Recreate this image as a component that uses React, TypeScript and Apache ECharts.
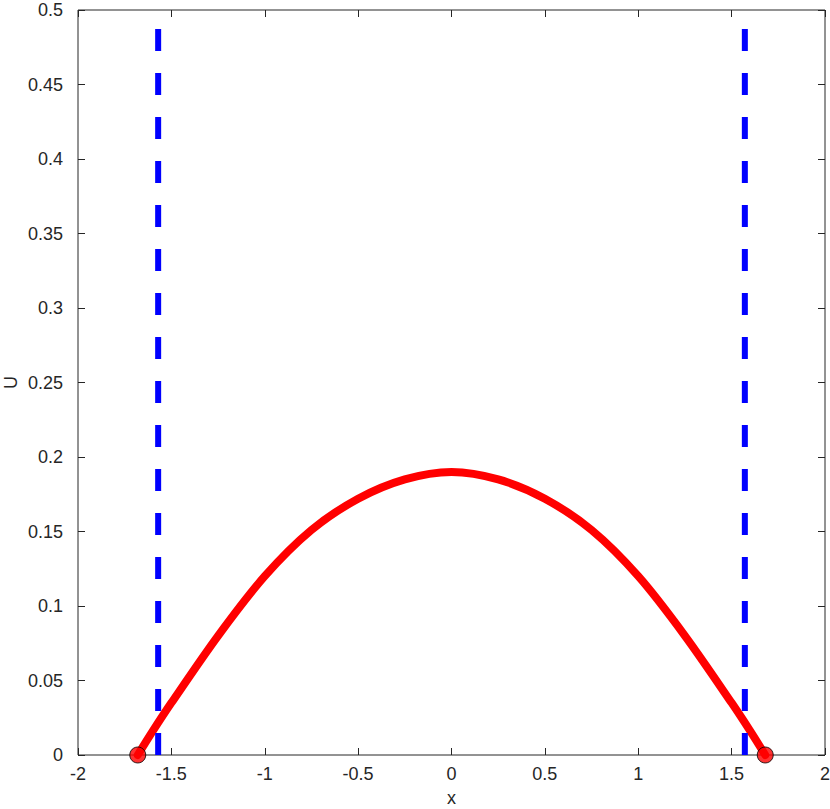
import React, { useEffect, useRef } from "react";
import * as echarts from "echarts";

const curveX = [-1.68, -1.6, -1.5, -1.25, -1.0, -0.75, -0.5, -0.25, 0, 0.25, 0.5, 0.75, 1.0, 1.25, 1.5, 1.6, 1.68];
const curveU = [0, 0.016, 0.035, 0.08, 0.12, 0.151, 0.172, 0.185, 0.19, 0.185, 0.172, 0.151, 0.12, 0.08, 0.035, 0.016, 0];
const wallX = [-1.5708, 1.5708];
const wallU = [0, 0.5];
const endX = [-1.68, 1.68];
const endU = [0, 0];
const xTicks = { min: -2, max: 2, interval: 0.5 };
const yTicks = { min: 0, max: 0.5, interval: 0.05 };

const FONT = "Liberation Sans";
const TXT = "#262626";

export default function App() {
  const ref = useRef<HTMLDivElement>(null);
  useEffect(() => {
    document.body.style.margin = "0";
    const chart = echarts.init(ref.current!, null, { renderer: "svg" });
    const tickStyle = { show: true, inside: true, length: 7, lineStyle: { color: TXT, width: 1 } };
    const labelStyle = { color: TXT, fontFamily: FONT, fontSize: 18 };
    const xBase = { type: "value" as const, ...xTicks, splitLine: { show: false }, axisLine: { show: false, onZero: false } };
    const yBase = { type: "value" as const, ...yTicks, splitLine: { show: false }, axisLine: { show: false, onZero: false } };
    const wallSeries = wallX.map((wx) => ({
      type: "line",
      data: wallU.map((u) => [wx, u]),
      symbol: "none",
      clip: false,
      lineStyle: { color: "#0000ff", width: 6, type: [22, 22], cap: "butt" },
      z: 3,
    }));
    chart.setOption({
      animation: false,
      backgroundColor: "#ffffff",
      grid: {
        left: 78,
        right: 5,
        top: 10,
        bottom: 54,
        outerBoundsMode: "none",
        containLabel: false,
        show: true,
        borderColor: TXT,
        borderWidth: 1,
        backgroundColor: "transparent",
      },
      xAxis: [
        {
          ...xBase,
          position: "bottom",
          name: "x",
          nameLocation: "middle",
          nameGap: 34,
          nameTextStyle: { ...labelStyle },
          axisTick: tickStyle,
          axisLabel: { ...labelStyle, margin: 10 },
        },
        {
          ...xBase,
          position: "top",
          axisTick: tickStyle,
          axisLabel: { show: false },
        },
      ],
      yAxis: [
        {
          ...yBase,
          position: "left",
          name: "U",
          nameLocation: "middle",
          nameMoveOverlap: false,
          nameGap: 58,
          nameTextStyle: { ...labelStyle },
          axisTick: tickStyle,
          axisLabel: { ...labelStyle, margin: 15 },
        },
        {
          ...yBase,
          position: "right",
          axisTick: tickStyle,
          axisLabel: { show: false },
        },
      ],
      series: [
        {
          type: "line",
          data: curveX.map((x, i) => [x, curveU[i]]),
          smooth: 0.3,
          symbol: "none",
          clip: false,
          lineStyle: { color: "#ff0000", width: 8, cap: "round" },
          z: 2,
        },
        ...wallSeries,
        {
          type: "scatter",
          data: endX.map((x, i) => [x, endU[i]]),
          symbol: "circle",
          symbolSize: 16,
          clip: false,
          itemStyle: { color: "#ff0000", borderColor: "#000000", borderWidth: 1 },
          z: 5,
        },
      ],
    });
    return () => chart.dispose();
  }, []);
  return <div ref={ref} style={{ width: 830, height: 809 }} />;
}
